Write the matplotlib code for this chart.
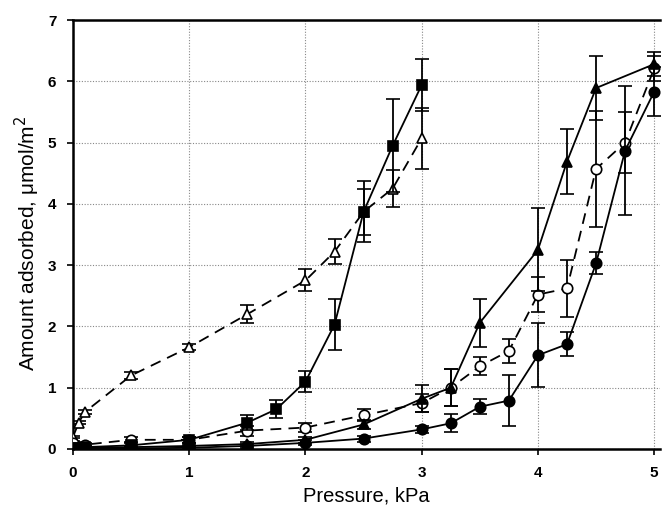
import matplotlib
matplotlib.use("Agg")
import matplotlib.pyplot as plt

# open triangles, dashed
tri_o_x = [0, 0.05, 0.1, 0.5, 1, 1.5, 2, 2.25, 2.5, 2.75, 3]
tri_o_y = [0.2, 0.43, 0.6, 1.2, 1.66, 2.2, 2.75, 3.22, 3.87, 4.25, 5.07]
tri_o_e = [0.02, 0.03, 0.03, 0.05, 0.05, 0.15, 0.18, 0.2, 0.37, 0.3, 0.5]

# filled squares, solid
sq_x = [0, 0.05, 0.1, 0.5, 1, 1.5, 1.75, 2, 2.25, 2.5, 2.75, 3]
sq_y = [0.02, 0.02, 0.03, 0.06, 0.15, 0.43, 0.65, 1.1, 2.03, 3.87, 4.95, 5.94]
sq_e = [0.02, 0.02, 0.02, 0.03, 0.05, 0.12, 0.15, 0.17, 0.42, 0.5, 0.76, 0.43]

# open circles, dashed
ci_o_x = [0, 0.1, 0.5, 1, 1.5, 2, 2.5, 3, 3.25, 3.5, 3.75, 4, 4.25, 4.5, 4.75, 5]
ci_o_y = [0.1, 0.07, 0.15, 0.15, 0.3, 0.35, 0.55, 0.75, 1.0, 1.35, 1.6, 2.52, 2.62, 4.57, 5.0, 6.21]
ci_o_e = [0.03, 0.02, 0.04, 0.05, 0.08, 0.08, 0.1, 0.15, 0.3, 0.15, 0.2, 0.28, 0.47, 0.95, 0.5, 0.2]

# filled triangles, solid
tri_f_x = [0, 0.1, 0.5, 1, 1.5, 2, 2.5, 3, 3.25, 3.5, 4, 4.25, 4.5, 5]
tri_f_y = [0.01, 0.02, 0.03, 0.05, 0.08, 0.15, 0.4, 0.82, 1.0, 2.06, 3.25, 4.69, 5.89, 6.28]
tri_f_e = [0.01, 0.01, 0.02, 0.02, 0.03, 0.05, 0.08, 0.22, 0.3, 0.39, 0.68, 0.53, 0.52, 0.2]

# filled circles, solid
ci_f_x = [0, 0.1, 0.5, 1, 1.5, 2, 2.5, 3, 3.25, 3.5, 3.75, 4, 4.25, 4.5, 4.75, 5]
ci_f_y = [0.0, 0.0, 0.01, 0.02, 0.05, 0.1, 0.17, 0.32, 0.42, 0.69, 0.79, 1.53, 1.71, 3.03, 4.87, 5.83]
ci_f_e = [0.01, 0.01, 0.01, 0.02, 0.03, 0.04, 0.05, 0.06, 0.15, 0.12, 0.42, 0.52, 0.2, 0.18, 1.05, 0.4]

x_ticks = [0, 1, 2, 3, 4, 5]
y_ticks = [0, 1, 2, 3, 4, 5, 6, 7]

plt.rcParams['font.family'] = ['Liberation Sans', 'DejaVu Sans']

fig = plt.figure(figsize=(6.63, 5.15), dpi=100)
ax = fig.add_axes([73/663, 1 - 449/515, 587/663, (449 - 20)/515])

dash = (0, (6, 4))
common = dict(color='black', ecolor='black', elinewidth=1.3, capsize=5,
              capthick=1.3, lw=1.3, ms=7.5, mec='black', mew=1.2)

ax.errorbar(tri_o_x, tri_o_y, yerr=tri_o_e, marker='^', mfc='white', ls=dash, **common, zorder=3)
ax.errorbar(sq_x, sq_y, yerr=sq_e, marker='s', mfc='black', ls='-', **common, zorder=4)
ax.errorbar(ci_o_x, ci_o_y, yerr=ci_o_e, marker='o', mfc='white', ls=dash, **common, zorder=3)
ax.errorbar(tri_f_x, tri_f_y, yerr=tri_f_e, marker='^', mfc='black', ls='-', **common, zorder=4)
ax.errorbar(ci_f_x, ci_f_y, yerr=ci_f_e, marker='o', mfc='black', ls='-', **common, zorder=4)

ax.set_xlim(0, 5.05)
ax.set_ylim(0, 7)
ax.set_xticks(x_ticks)
ax.set_yticks(y_ticks)
ax.set_xticklabels([str(t) for t in x_ticks], fontsize=11, fontweight='bold')
ax.set_yticklabels([str(t) for t in y_ticks], fontsize=11, fontweight='bold')
ax.tick_params(direction='out', length=4, width=1.2, pad=8)

ax.grid(True, ls=(0, (1, 1.5)), color='#888888', lw=0.8)
ax.set_axisbelow(True)

for s in ['left', 'bottom', 'top']:
    ax.spines[s].set_linewidth(1.8)
ax.spines['right'].set_visible(False)

ax.set_xlabel('Pressure, kPa', fontsize=14.5)
ax.xaxis.set_label_coords(0.5, -(496 - 449) / 429, transform=ax.transAxes)
ax.set_ylabel('Amount adsorbed, μmol/m$^2$', fontsize=15)
ax.yaxis.set_label_coords(-(73 - 27) / 587, 0.5 - (243 - 234.5) / 429, transform=ax.transAxes)
ax.xaxis.label.set_va('center')
ax.yaxis.label.set_va('center')

fig.savefig('out.png', dpi=100)
